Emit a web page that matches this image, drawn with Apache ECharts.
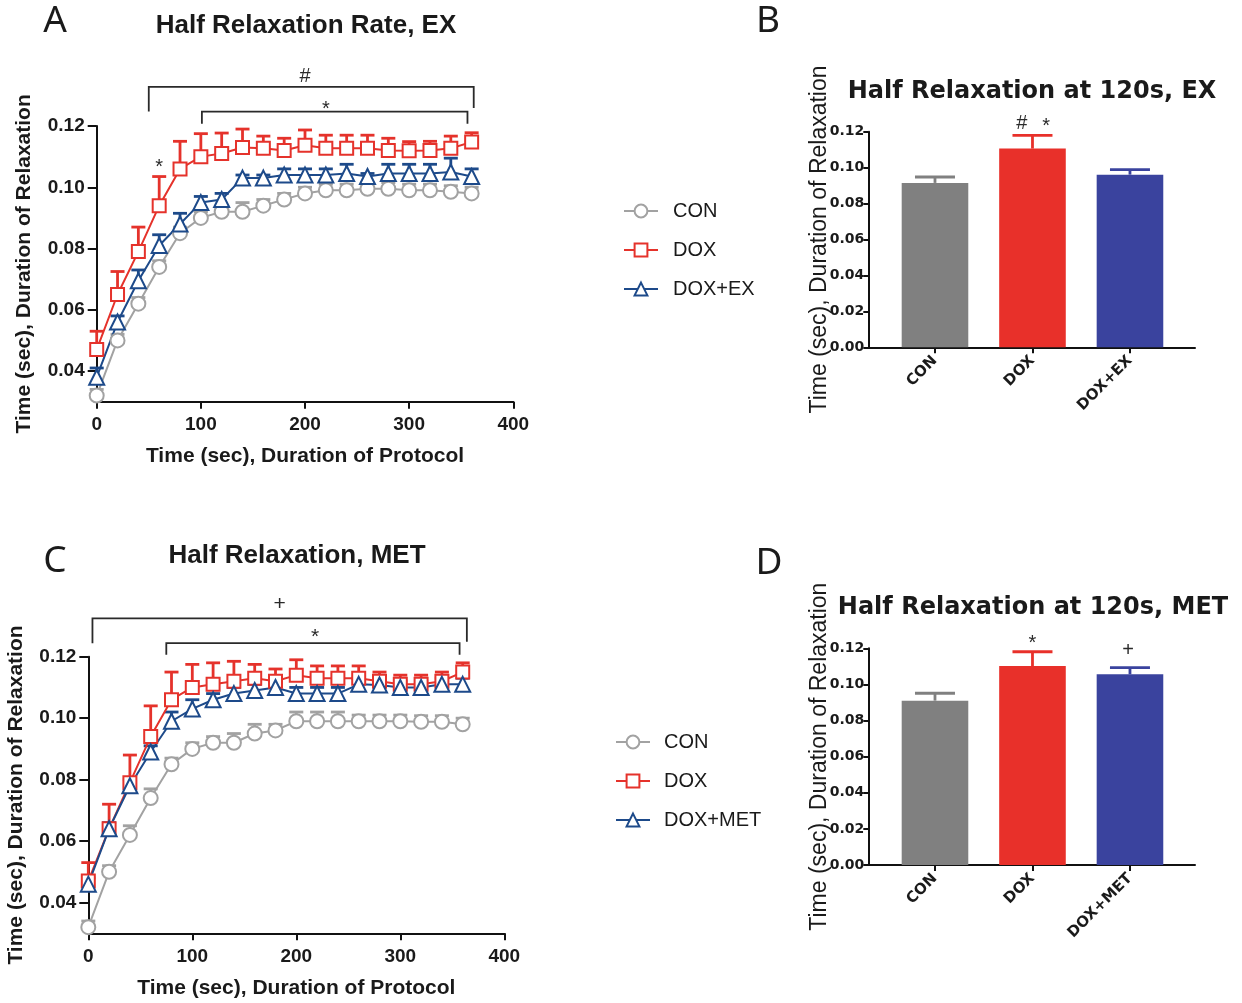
<!DOCTYPE html>
<html>
<head>
<meta charset="UTF-8">
<title>Half Relaxation</title>
<script src="https://cdn.jsdelivr.net/npm/echarts@6.0.0/dist/echarts.min.js"></script>
<style>
  html, body { margin: 0; padding: 0; background: #fff; }
  #chart { width: 1242px; height: 1003px; }
</style>
</head>
<body>
<div id="chart"></div>
<script>
// 时间点 (sec)
const times = [0, 20, 40, 60, 80, 100, 120, 140, 160, 180, 200, 220, 240, 260, 280, 300, 320, 340, 360]

// A: EX
const conEx = [0.032, 0.050, 0.062, 0.074, 0.085, 0.090, 0.092, 0.092, 0.094, 0.096, 0.098, 0.099, 0.099, 0.0995, 0.0995, 0.099, 0.099, 0.0985, 0.098]
const conExErr = [0.002, 0.002, 0.002, 0.002, 0.002, 0.002, 0.002, 0.003, 0.002, 0.002, 0.002, 0.002, 0.002, 0.002, 0.002, 0.002, 0.002, 0.002, 0.002]
const doxEx = [0.047, 0.065, 0.079, 0.094, 0.106, 0.110, 0.111, 0.113, 0.1127, 0.112, 0.1137, 0.1127, 0.1127, 0.1127, 0.112, 0.1119, 0.112, 0.1127, 0.1148]
const doxExErr = [0.006, 0.0075, 0.008, 0.0095, 0.009, 0.0075, 0.0067, 0.006, 0.004, 0.004, 0.005, 0.0043, 0.0043, 0.0043, 0.004, 0.003, 0.003, 0.004, 0.003]
const exEx = [0.038, 0.056, 0.0695, 0.081, 0.088, 0.095, 0.096, 0.103, 0.103, 0.104, 0.104, 0.104, 0.1045, 0.1035, 0.1045, 0.1045, 0.1045, 0.105, 0.1035]
const exExErr = [0.003, 0.002, 0.0035, 0.0035, 0.0035, 0.002, 0.002, 0.001, 0.001, 0.002, 0.002, 0.002, 0.003, 0.001, 0.003, 0.003, 0.003, 0.0045, 0.0025]

// C: MET
const conMet = [0.032, 0.050, 0.062, 0.074, 0.085, 0.090, 0.092, 0.092, 0.095, 0.096, 0.099, 0.099, 0.099, 0.099, 0.099, 0.099, 0.0988, 0.0988, 0.098]
const conMetErr = [0.002, 0.002, 0.003, 0.003, 0.002, 0.002, 0.002, 0.003, 0.003, 0.002, 0.003, 0.003, 0.003, 0.002, 0.002, 0.002, 0.002, 0.002, 0.002]
const doxMet = [0.047, 0.064, 0.079, 0.094, 0.106, 0.110, 0.111, 0.112, 0.113, 0.112, 0.114, 0.113, 0.113, 0.113, 0.112, 0.111, 0.111, 0.112, 0.115]
const doxMetErr = [0.006, 0.008, 0.009, 0.010, 0.009, 0.0075, 0.007, 0.0065, 0.0045, 0.004, 0.005, 0.004, 0.004, 0.004, 0.003, 0.003, 0.003, 0.003, 0.003]
const metMet = [0.046, 0.064, 0.078, 0.089, 0.099, 0.103, 0.106, 0.108, 0.109, 0.110, 0.108, 0.108, 0.108, 0.111, 0.1108, 0.110, 0.110, 0.111, 0.111]
const metMetErr = [0.002, 0.002, 0.002, 0.002, 0.003, 0.003, 0.002, 0.002, 0.002, 0.002, 0.002, 0.002, 0.002, 0.002, 0.002, 0.002, 0.002, 0.002, 0.002]

// B / D: 120s 柱状图
const barGroupsEx = ['CON', 'DOX', 'DOX+EX']
const barEx = [0.0915, 0.1106, 0.0961]
const barExErr = [0.0033, 0.0074, 0.0028]
const barGroupsMet = ['CON', 'DOX', 'DOX+MET']
const barMet = [0.091, 0.1102, 0.1056]
const barMetErr = [0.0041, 0.0079, 0.0037]

// 显著性标记: [x1, x2, 顶部y, 左脚y, 右脚y]
const bracketsEx = [[50, 362, 0.1328, 0.1247, 0.1259], [101, 356, 0.1247, 0.1207, 0.1207]]
const marksEx = [[200, 0.1363, '#'], [220, 0.1255, '*'], [60, 0.1066, '*']]
const bracketsMet = [[4, 364, 0.1325, 0.1244, 0.1249], [75, 357, 0.1244, 0.1206, 0.1206]]
const marksMet = [[184, 0.1371, '+'], [218, 0.1263, '*']]
const barMarksEx = [[1.89, 0.1248, '#'], [2.14, 0.1231, '*']]
const barMarksMet = [[2, 0.1224, '*'], [2.98, 0.1188, '+']]

const yTicksLine = [0.04, 0.06, 0.08, 0.10, 0.12]

const C_CON = '#a2a2a2', C_DOX = '#e5322b', C_EX = '#1d4a8a'
const barColors = ['#808080', '#e8302a', '#3a439e']
const ARIAL = 'Liberation Sans, Arial, sans-serif'
const WIDE = 'DejaVu Sans, sans-serif'
const INK = '#1a1a1a'

const chart = echarts.init(document.getElementById('chart'))

function zip(xs, ys, es) {
  return xs.map((x, i) => es ? [x, ys[i], es[i]] : [x, ys[i]])
}

// 只画上半部分的误差线
function errorBar(capHalf, width, colorOf) {
  return function (params, api) {
    const x = api.value(0), y = api.value(1), e = api.value(2)
    const p0 = api.coord([x, y])
    const p1 = api.coord([x, y + e])
    const color = colorOf ? colorOf(params.dataIndex) : api.visual('color')
    const st = { stroke: color, lineWidth: width }
    return {
      type: 'group',
      children: [
        { type: 'line', shape: { x1: p0[0], y1: p0[1], x2: p1[0], y2: p1[1] }, style: st },
        { type: 'line', shape: { x1: p1[0] - capHalf, y1: p1[1], x2: p1[0] + capHalf, y2: p1[1] }, style: st }
      ]
    }
  }
}

function bracket(params, api) {
  const a = api.coord([api.value(0), api.value(3)])
  const b = api.coord([api.value(0), api.value(2)])
  const c = api.coord([api.value(1), api.value(2)])
  const d = api.coord([api.value(1), api.value(4)])
  return { type: 'polyline', shape: { points: [a, b, c, d] }, style: { stroke: '#2a2a2a', lineWidth: 1.8, fill: null } }
}

function markText(list, size) {
  return function (params, api) {
    const p = api.coord([api.value(0), api.value(1)])
    return {
      type: 'text', x: p[0], y: p[1],
      style: { text: list[params.dataIndex][2], fontSize: size, fontFamily: ARIAL, fill: '#2a2a2a', align: 'center', verticalAlign: 'middle' }
    }
  }
}

function lineAxisX(grid) {
  return {
    type: 'value', gridIndex: grid, min: 0, max: 400, interval: 100,
    name: 'Time (sec), Duration of Protocol', nameLocation: 'middle', nameGap: 44,
    nameTextStyle: { fontSize: 21, fontWeight: 'bold', fontFamily: ARIAL, color: INK },
    axisLine: { lineStyle: { color: '#111', width: 2 } },
    axisTick: { length: 7, lineStyle: { color: '#111', width: 2 } },
    axisLabel: { fontSize: 19, fontWeight: 'bold', fontFamily: ARIAL, color: INK, margin: 14 },
    splitLine: { show: false }
  }
}

function lineAxisY(grid) {
  return {
    type: 'value', gridIndex: grid, min: 0.03, max: 0.12,
    name: 'Time (sec), Duration of Relaxation', nameLocation: 'middle', nameGap: 62, nameMoveOverlap: false,
    nameTextStyle: { fontSize: 21, fontWeight: 'bold', fontFamily: ARIAL, color: INK },
    axisLine: { show: true, lineStyle: { color: '#111', width: 2 } },
    axisTick: { show: true, length: 9, customValues: yTicksLine, lineStyle: { color: '#111', width: 2 } },
    axisLabel: { customValues: yTicksLine, formatter: v => v.toFixed(2), fontSize: 19, fontWeight: 'bold', fontFamily: ARIAL, color: INK, margin: 12 },
    splitLine: { show: false }
  }
}

function barAxisX(grid, groups) {
  return {
    type: 'value', gridIndex: grid, min: 0.316, max: 3.667,
    axisLine: { lineStyle: { color: '#111', width: 2 } },
    axisTick: { length: 6, customValues: [1, 2, 3], lineStyle: { color: '#111', width: 2 } },
    axisLabel: { customValues: [1, 2, 3], formatter: v => groups[Math.round(v) - 1], rotate: 45, fontSize: 15, fontWeight: 'bold', fontFamily: WIDE, color: INK, margin: 11 },
    splitLine: { show: false }
  }
}

function barAxisY(grid) {
  return {
    type: 'value', gridIndex: grid, min: 0, max: 0.12, interval: 0.02,
    name: 'Time (sec), Duration of Relaxation', nameLocation: 'middle', nameGap: 37, nameMoveOverlap: false,
    nameTextStyle: { fontSize: 23, fontFamily: ARIAL, color: INK },
    axisLine: { show: true, lineStyle: { color: '#111', width: 2 } },
    axisTick: { show: true, length: 5, lineStyle: { color: '#111', width: 2 } },
    axisLabel: { formatter: v => v.toFixed(2), fontSize: 14, fontWeight: 'bold', fontFamily: WIDE, color: INK, margin: 4 },
    splitLine: { show: false }
  }
}

function lineSeries(name, ax, ys, color, symbol, size) {
  return {
    name, type: 'line', xAxisIndex: ax, yAxisIndex: ax, data: zip(times, ys),
    symbol, symbolSize: size, color, z: 4,
    lineStyle: { width: 2, color },
    itemStyle: { color, borderWidth: 2.2 }
  }
}

function errSeries(ax, ys, es, color) {
  return {
    type: 'custom', xAxisIndex: ax, yAxisIndex: ax, data: zip(times, ys, es),
    renderItem: errorBar(7, 2.8), itemStyle: { color }, z: 3, clip: false, silent: true
  }
}

function legend(names, left, top, pad) {
  return {
    data: names, orient: 'vertical', left, top, itemWidth: 34, itemHeight: 16, itemGap: 19,
    selectedMode: false,
    textStyle: { fontSize: 20, fontFamily: ARIAL, color: INK, padding: [0, 0, 0, pad] }
  }
}

function label(text, x, y, size, weight, family) {
  return {
    type: 'text', x, y,
    style: { text, fontSize: size, fontWeight: weight, fontFamily: family, fill: INK, align: 'center', verticalAlign: 'middle' }
  }
}

const option = {
  animation: false,
  backgroundColor: '#fff',
  grid: [
    { left: 96.7, top: 126, width: 416.6, height: 275.7, outerBoundsMode: 'none' },
    { left: 868.3, top: 131.7, width: 326.7, height: 215.6, outerBoundsMode: 'none' },
    { left: 88.3, top: 656.7, width: 416, height: 276.6, outerBoundsMode: 'none' },
    { left: 868.3, top: 648.3, width: 326.7, height: 216.7, outerBoundsMode: 'none' }
  ],
  xAxis: [lineAxisX(0), barAxisX(1, barGroupsEx), lineAxisX(2), barAxisX(3, barGroupsMet)],
  yAxis: [lineAxisY(0), barAxisY(1), lineAxisY(2), barAxisY(3)],
  legend: [
    legend(['CON', 'DOX', 'DOX+EX'], 618, 196, 10),
    legend(['CON', 'DOX', 'DOX+MET'], 610, 727, 9)
  ],
  graphic: [
    label('A', 55, 21, 37, 'normal', 'Noto Sans, sans-serif'),
    label('B', 768, 21, 37, 'normal', 'Noto Sans, sans-serif'),
    label('C', 55, 561, 37, 'normal', 'Noto Sans, sans-serif'),
    label('D', 769, 563, 37, 'normal', 'Noto Sans, sans-serif'),
    label('Half Relaxation Rate, EX', 306, 26, 26, 'bold', ARIAL),
    label('Half Relaxation, MET', 297, 556, 26, 'bold', ARIAL),
    label('Half Relaxation at 120s, EX', 1032, 92, 24, 'bold', WIDE),
    label('Half Relaxation at 120s, MET', 1033, 608, 24, 'bold', WIDE)
  ],
  series: [
    // A
    errSeries(0, conEx, conExErr, C_CON),
    lineSeries('CON', 0, conEx, C_CON, 'emptyCircle', 14),
    errSeries(0, doxEx, doxExErr, C_DOX),
    lineSeries('DOX', 0, doxEx, C_DOX, 'emptyRect', 13),
    errSeries(0, exEx, exExErr, C_EX),
    lineSeries('DOX+EX', 0, exEx, C_EX, 'emptyTriangle', 15),
    { type: 'custom', xAxisIndex: 0, yAxisIndex: 0, data: bracketsEx, renderItem: bracket, clip: false, silent: true },
    { type: 'custom', xAxisIndex: 0, yAxisIndex: 0, data: marksEx.map(m => [m[0], m[1]]), renderItem: markText(marksEx, 20), clip: false, silent: true },
    // C
    errSeries(2, conMet, conMetErr, C_CON),
    lineSeries('CON', 2, conMet, C_CON, 'emptyCircle', 14),
    errSeries(2, doxMet, doxMetErr, C_DOX),
    lineSeries('DOX', 2, doxMet, C_DOX, 'emptyRect', 13),
    errSeries(2, metMet, metMetErr, C_EX),
    lineSeries('DOX+MET', 2, metMet, C_EX, 'emptyTriangle', 15),
    { type: 'custom', xAxisIndex: 2, yAxisIndex: 2, data: bracketsMet, renderItem: bracket, clip: false, silent: true },
    { type: 'custom', xAxisIndex: 2, yAxisIndex: 2, data: marksMet.map(m => [m[0], m[1]]), renderItem: markText(marksMet, 21), clip: false, silent: true },
    // B
    {
      type: 'bar', xAxisIndex: 1, yAxisIndex: 1, barWidth: 66.6,
      data: barEx.map((v, i) => ({ value: [i + 1, v], itemStyle: { color: barColors[i] } }))
    },
    {
      type: 'custom', xAxisIndex: 1, yAxisIndex: 1, data: barEx.map((v, i) => [i + 1, v, barExErr[i]]),
      renderItem: errorBar(20, 2.8, i => barColors[i]), clip: false, silent: true, z: 1
    },
    { type: 'custom', xAxisIndex: 1, yAxisIndex: 1, data: barMarksEx.map(m => [m[0], m[1]]), renderItem: markText(barMarksEx, 20), clip: false, silent: true },
    // D
    {
      type: 'bar', xAxisIndex: 3, yAxisIndex: 3, barWidth: 66.6,
      data: barMet.map((v, i) => ({ value: [i + 1, v], itemStyle: { color: barColors[i] } }))
    },
    {
      type: 'custom', xAxisIndex: 3, yAxisIndex: 3, data: barMet.map((v, i) => [i + 1, v, barMetErr[i]]),
      renderItem: errorBar(20, 2.8, i => barColors[i]), clip: false, silent: true, z: 1
    },
    { type: 'custom', xAxisIndex: 3, yAxisIndex: 3, data: barMarksMet.map(m => [m[0], m[1]]), renderItem: markText(barMarksMet, 20), clip: false, silent: true }
  ]
}

chart.setOption(option)
</script>
</body>
</html>
